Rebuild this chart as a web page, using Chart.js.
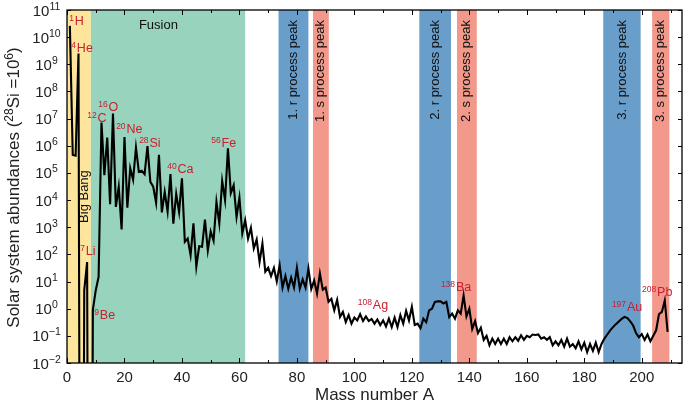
<!DOCTYPE html>
<html>
<head>
<meta charset="utf-8">
<script src="https://cdn.jsdelivr.net/npm/chart.js@4.4.1/dist/chart.umd.min.js"></script>
<style>
  html, body { margin: 0; padding: 0; background: #fff; }
  canvas { display: block; }
</style>
</head>
<body>
<canvas id="abundanceChart" width="685" height="404"></canvas>
<script>
const FONT = "'Liberation Sans', Arial, sans-serif";

// solar system abundance per mass number A = 1, 2, 3 ... (Si-28 = 1e6)
// 1e-30 stands for "no stable nuclide" (A = 5, 8), the line just drops off the axis
const abundance = [
  2.6e10, 4.6e5, 4.3e5, 2.5e9, 1e-30, 4.8, 52, 1e-30, 0.9, 4.7,          // 1-10
  15, 7.2e6, 8.3e4, 2.0e6, 7.1e3, 1.55e7, 5.6e3, 3.1e4, 830, 2.1e6,      // 11-20
  5.2e3, 1.5e5, 5.6e4, 8.5e5, 1.1e5, 1.2e5, 9.0e4, 9.8e5, 4.7e4, 3.1e4,  // 21-30
  8.0e3, 4.6e5, 3.5e3, 2.0e4, 3.8e3, 9.0e4, 1.35e3, 1.7e4, 3.6e3, 6.3e4, // 31-40
  290, 380, 93, 1.38e3, 35, 200, 190, 1.9e3, 140, 700,                    // 41-50
  320, 8.5e3, 1.38e3, 5.1e4, 1.0e4, 8.0e5, 1.8e4, 3.5e4, 2.4e3, 1.23e4,  // 51-60
  590, 1.8e3, 380, 950, 166, 350, 52, 250, 23, 32,                        // 61-70
  16, 32, 10, 40, 6, 16, 5.4, 14, 6, 32,                                  // 71-80
  5.5, 12, 6, 30, 5.3, 11, 3.6, 20, 5, 6,                                 // 81-90
  1.8, 2.3, 0.87, 2.1, 0.5, 0.76, 0.32, 0.58, 0.28, 0.47,                 // 91-100
  0.37, 0.63, 0.35, 0.52, 0.35, 0.42, 0.28, 0.4, 0.25, 0.37,              // 101-110
  0.22, 0.43, 0.21, 0.47, 0.21, 0.58, 0.28, 0.83, 0.37, 1.17,             // 111-120
  0.25, 0.28, 0.19, 0.43, 0.32, 0.87, 1.0, 1.78, 1.86, 1.86,              // 121-130
  1.55, 1.78, 0.49, 0.66, 0.43, 0.87, 0.66, 3.1, 0.52, 1.0,               // 131-140
  0.18, 0.35, 0.126, 0.2, 0.071, 0.1, 0.045, 0.079, 0.05, 0.079,          // 141-150
  0.05, 0.079, 0.05, 0.089, 0.063, 0.089, 0.066, 0.105, 0.071, 0.1,       // 151-160
  0.089, 0.112, 0.107, 0.112, 0.079, 0.089, 0.071, 0.089, 0.045, 0.063,   // 161-170
  0.045, 0.071, 0.04, 0.079, 0.04, 0.05, 0.035, 0.063, 0.032, 0.056,      // 171-180
  0.025, 0.05, 0.028, 0.056, 0.025, 0.05, 0.079, 0.112, 0.16, 0.21,       // 181-190
  0.27, 0.34, 0.42, 0.5, 0.45, 0.34, 0.24, 0.126, 0.089, 0.117,           // 191-200
  0.071, 0.112, 0.063, 0.1, 0.16, 0.63, 0.76, 2.0, 0.14                   // 201-209
];
const massNumber = abundance.map((_, i) => i + 1);

// shaded regions (in mass number)
const bandStart = [0, 8.3, 73.6, 85.6, 122.6, 135.7, 186.6, 203.6];
const bandEnd   = [8.3, 62, 84, 91.1, 133.6, 142.6, 199.6, 209.6];
const bandColor = ['#fde69c', '#97d3bd', '#699ecb', '#f2998c', '#699ecb', '#f2998c', '#699ecb', '#f2998c'];
const peakText  = ['1. r process peak', '1. s process peak', '2. r process peak',
                   '2. s process peak', '3. r process peak', '3. s process peak'];

// isotope labels: superscript mass, symbol, anchor (left edge, baseline) in data units
const isoMass  = ['1', '4', '7', '9', '12', '16', '20', '28', '40', '56', '108', '138', '197', '208'];
const isoName  = ['H', 'He', 'Li', 'Be', 'C', 'O', 'Ne', 'Si', 'Ca', 'Fe', 'Ag', 'Ba', 'Au', 'Pb'];
const isoAtA   = [0.8, 1.5, 4.6, 9.5, 7.06, 10.9, 17.1, 25.1, 34.9, 50.2, 101.2, 130.1, 189.6, 200.1];
const isoAtLog = [10.45, 9.45, 1.97, -0.39, 6.87, 7.28, 6.47, 5.95, 4.99, 5.95, -0.02, 0.65, -0.1, 0.46];

const xMajorTicks = [0, 20, 40, 60, 80, 100, 120, 140, 160, 180, 200];
const xMinorTicks = [10, 30, 50, 70, 90, 110, 130, 150, 170, 190, 210];
const yExponents  = [-2, -1, 0, 1, 2, 3, 4, 5, 6, 7, 8, 9, 10, 11];

function drawSup(ctx, parts, x, y) {
  // parts: [text, size, raise]
  let cx = x;
  parts.forEach(p => {
    ctx.font = p[1] + 'px ' + FONT;
    ctx.fillText(p[0], cx, y - p[2]);
    cx += ctx.measureText(p[0]).width;
  });
}
function supWidth(ctx, parts) {
  return parts.reduce((w, p) => { ctx.font = p[1] + 'px ' + FONT; return w + ctx.measureText(p[0]).width; }, 0);
}

const bandsPlugin = {
  id: 'bands',
  beforeDatasetsDraw(chart) {
    const { ctx, chartArea: a, scales: { x, y } } = chart;
    ctx.save();
    bandStart.forEach((s, i) => {
      const x0 = x.getPixelForValue(s), x1 = x.getPixelForValue(bandEnd[i]);
      ctx.fillStyle = bandColor[i];
      ctx.fillRect(x0, a.top, x1 - x0, a.bottom - a.top);
    });
    ctx.fillStyle = '#111';
    ctx.font = '13px ' + FONT;
    // Fusion
    ctx.textAlign = 'center';
    ctx.textBaseline = 'middle';
    ctx.fillText('Fusion', x.getPixelForValue(31.8), y.getPixelForValue(Math.pow(10, 10.45)));
    // Big Bang
    ctx.save();
    ctx.translate(x.getPixelForValue(6.2), y.getPixelForValue(Math.pow(10, 4.13)));
    ctx.rotate(-Math.PI / 2);
    ctx.fillText('Big Bang', 0, 0);
    ctx.restore();
    // process peaks
    peakText.forEach((t, k) => {
      const i = k + 2;
      const cx = (x.getPixelForValue(bandStart[i]) + x.getPixelForValue(bandEnd[i])) / 2;
      ctx.save();
      ctx.translate(cx, y.getPixelForValue(Math.pow(10, 10.63)));
      ctx.rotate(-Math.PI / 2);
      ctx.textAlign = 'right';
      ctx.fillText(t, 0, 0);
      ctx.restore();
    });
    ctx.restore();
  }
};

const framePlugin = {
  id: 'frame',
  afterDatasetsDraw(chart) {
    const { ctx, chartArea: a, scales: { x, y } } = chart;
    ctx.save();
    ctx.strokeStyle = '#000';
    ctx.lineWidth = 1.3;
    ctx.strokeRect(a.left, a.top, a.right - a.left, a.bottom - a.top);
    ctx.lineWidth = 1;
    ctx.beginPath();
    const tick = (v, len) => {
      const px = Math.round(x.getPixelForValue(v)) + 0.5;
      ctx.moveTo(px, a.bottom); ctx.lineTo(px, a.bottom - len);
      ctx.moveTo(px, a.top); ctx.lineTo(px, a.top + len);
    };
    xMajorTicks.forEach(v => tick(v, 5));
    xMinorTicks.forEach(v => tick(v, 3));
    yExponents.forEach(e => {
      const py = Math.round(y.getPixelForValue(Math.pow(10, e))) + 0.5;
      ctx.moveTo(a.left, py); ctx.lineTo(a.left + 4, py);
      ctx.moveTo(a.right, py); ctx.lineTo(a.right - 4, py);
    });
    ctx.stroke();

    // y tick labels 10^e
    ctx.fillStyle = '#222';
    ctx.textAlign = 'left';
    ctx.textBaseline = 'alphabetic';
    yExponents.forEach(e => {
      const py = y.getPixelForValue(Math.pow(10, e));
      const parts = [['10', 15, 0], [String(e).replace('-', '\u2212'), 10.5, 6]];
      const w = supWidth(ctx, parts);
      drawSup(ctx, parts, 46.5 - w / 2, py + 5.5);
    });

    // y axis title
    ctx.save();
    ctx.translate(18.5, 187.5);
    ctx.rotate(-Math.PI / 2);
    const title = [['Solar system abundances (', 17, 0], ['28', 12, 6], ['Si =10', 17, 0], ['6', 12, 6], [')', 17, 0]];
    drawSup(ctx, title, -supWidth(ctx, title) / 2, 0);
    ctx.restore();

    // isotope labels
    ctx.fillStyle = '#c8202f';
    isoName.forEach((n, i) => {
      const px = x.getPixelForValue(isoAtA[i]);
      const py = y.getPixelForValue(Math.pow(10, isoAtLog[i]));
      drawSup(ctx, [[isoMass[i], 8.5, 4], [' ', 3, 0], [n, 12.5, 0]], px, py);
    });
    ctx.restore();
  }
};

new Chart(document.getElementById('abundanceChart').getContext('2d'), {
  type: 'line',
  data: {
    datasets: [{
      data: massNumber.map((a, i) => ({ x: a, y: abundance[i] })),
      borderColor: '#000',
      borderWidth: 2.1,
      pointRadius: 0,
      tension: 0,
      fill: false
    }]
  },
  options: {
    responsive: false,
    devicePixelRatio: 1,
    animation: false,
    layout: { padding: { top: 10, right: 3, left: 0, bottom: 0 } },
    plugins: { legend: { display: false }, tooltip: { enabled: false } },
    scales: {
      x: {
        type: 'linear', min: 0, max: 214,
        grid: { display: false, drawTicks: false },
        border: { display: false },
        ticks: { font: { family: FONT, size: 15 }, color: '#222', padding: 6, maxRotation: 0, includeBounds: false },
        afterBuildTicks: s => { s.ticks = xMajorTicks.map(v => ({ value: v })); },
        title: { display: true, text: 'Mass number A', color: '#222', font: { family: FONT, size: 17, lineHeight: 1.0 }, padding: { top: 0, bottom: 0 } },
        afterFit: s => { s.height = 41; }
      },
      y: {
        type: 'logarithmic', min: 1e-2, max: 1e11,
        grid: { display: false },
        border: { display: false },
        ticks: { display: false },
        afterFit: s => { s.width = 67; }
      }
    }
  },
  plugins: [bandsPlugin, framePlugin]
});
</script>
</body>
</html>
